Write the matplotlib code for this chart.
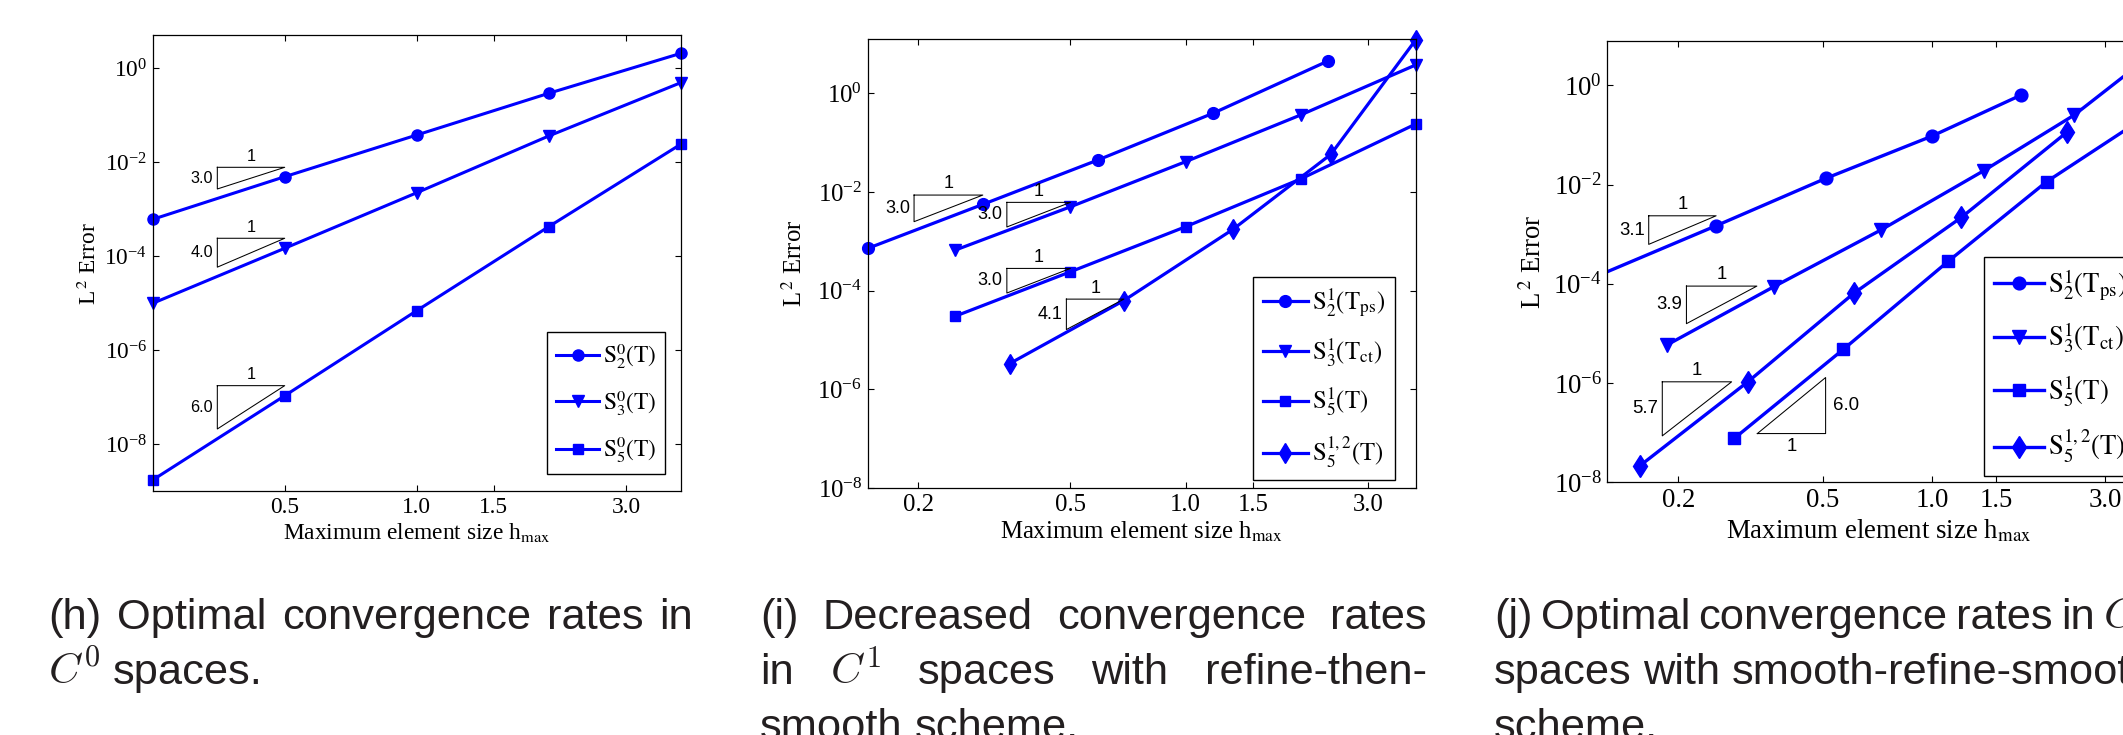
import matplotlib
matplotlib.use('Agg')
import matplotlib.pyplot as plt
from matplotlib.ticker import FixedLocator, FixedFormatter, NullLocator, LogFormatterMathtext
from matplotlib.transforms import offset_copy

plt.rcParams['font.family'] = 'serif'
plt.rcParams['font.serif'] = ['Liberation Serif', 'DejaVu Serif']
plt.rcParams['mathtext.fontset'] = 'stix'

# ---------------- data ----------------
# (h) C0 spaces
h_c0 = [0.25, 0.5, 1.0, 2.0, 4.0]
err_c0_s2 = [6.12e-4, 4.94e-3, 3.81e-2, 0.294, 2.08]
err_c0_s3 = [1.0e-5, 1.48e-4, 2.25e-3, 3.63e-2, 0.494]
err_c0_s5 = [1.74e-9, 1.08e-7, 6.97e-6, 4.27e-4, 2.42e-2]

# (i) C1, refine-then-smooth
h_i_ps = [0.1475, 0.295, 0.59, 1.18, 2.36]
err_i_ps = [7.18e-4, 5.60e-3, 4.44e-2, 0.393, 4.52]
h_i_ct = [0.25, 0.5, 1.0, 2.0, 4.0]
err_i_ct = [6.64e-4, 5.0e-3, 4.1e-2, 0.363, 3.75]
h_i_s5 = [0.25, 0.5, 1.0, 2.0, 4.0]
err_i_s5 = [3.04e-5, 2.41e-4, 1.97e-3, 1.83e-2, 0.238]
h_i_s512 = [0.347, 0.69, 1.33, 2.40, 4.0]
err_i_s512 = [3.33e-6, 6.3e-5, 1.74e-3, 5.79e-2, 12.05]

# (j) C1, smooth-refine-smooth
h_j_ps = [0.127, 0.254, 0.509, 1.0, 1.76]
err_j_ps = [1.74e-4, 1.48e-3, 1.33e-2, 9.5e-2, 0.637]
h_j_ct = [0.1855, 0.366, 0.722, 1.388, 2.466, 4.0]
err_j_ct = [5.81e-6, 8.71e-5, 1.21e-3, 1.90e-2, 0.252, 3.98]
h_j_s5 = [0.2848, 0.569, 1.11, 2.069, 4.0]
err_j_s5 = [7.64e-8, 4.75e-6, 2.87e-4, 1.14e-2, 0.27]
h_j_s512 = [0.1564, 0.3107, 0.608, 1.205, 2.362]
err_j_s512 = [2.14e-8, 1.06e-6, 6.4e-5, 2.18e-3, 0.116]

labels_c0 = [r'$\mathrm{S}_{2}^{0}\mathrm{(T)}$', r'$\mathrm{S}_{3}^{0}\mathrm{(T)}$',
             r'$\mathrm{S}_{5}^{0}\mathrm{(T)}$']
labels_c1 = [r'$\mathrm{S}_{2}^{1}\mathrm{(T}_{\mathrm{ps}}\mathrm{)}$',
             r'$\mathrm{S}_{3}^{1}\mathrm{(T}_{\mathrm{ct}}\mathrm{)}$',
             r'$\mathrm{S}_{5}^{1}\mathrm{(T)}$',
             r'$\mathrm{S}_{5}^{1,2}\mathrm{(T)}$']

# slope triangles: x_left, x_right, y of horizontal edge, rate label, flipped
tris_h = [(0.351, 0.5, 7.83e-3, '3.0', False),
          (0.351, 0.5, 2.42e-4, '4.0', False),
          (0.351, 0.5, 1.77e-7, '6.0', False)]
tris_i = [(0.195, 0.295, 8.65e-3, '3.0', False),
          (0.341, 0.5, 6.15e-3, '3.0', False),
          (0.341, 0.5, 2.82e-4, '3.0', False),
          (0.488, 0.69, 6.73e-5, '4.1', False)]
tris_j = [(0.1656, 0.254, 2.35e-3, '3.1', False),
          (0.2104, 0.329, 9.0e-5, '3.9', False),
          (0.1805, 0.2803, 1.06e-6, '5.7', False),
          (0.330, 0.509, 9.6e-8, '6.0', True)]

captions = [
    [(['(h)', 'Optimal', 'convergence', 'rates', 'in'], True),
     ([r'$C^0$', 'spaces.'], False)],
    [(['(i)', 'Decreased', 'convergence', 'rates'], True),
     (['in', r'$C^1$', 'spaces', 'with', 'refine-then-'], True),
     (['smooth', 'scheme.'], False)],
    [(['(j)', 'Optimal', 'convergence', 'rates', 'in', r'$C^1$'], True),
     (['spaces', 'with', 'smooth-refine-smooth'], True),
     (['scheme.'], False)],
]

# ---------------- figure ----------------
W, H = 2123, 735
fig = plt.figure(figsize=(W / 100, H / 100), dpi=100)
blue = '#0000ff'


def add_ax(l, t, r, b):
    return fig.add_axes([l / W, 1 - b / H, (r - l) / W, (b - t) / H])


def setup(ax, xlim, ylim, xticks, fs):
    ax.set_xscale('log')
    ax.set_yscale('log')
    ax.set_xlim(xlim)
    ax.set_ylim(ylim)
    ax.xaxis.set_major_locator(FixedLocator(xticks))
    ax.xaxis.set_major_formatter(FixedFormatter(['%.1f' % v for v in xticks]))
    ax.xaxis.set_minor_locator(NullLocator())
    ax.yaxis.set_major_locator(FixedLocator([1e-8, 1e-6, 1e-4, 1e-2, 1e0]))
    ax.yaxis.set_major_formatter(LogFormatterMathtext())
    ax.yaxis.set_minor_locator(NullLocator())
    ax.tick_params(which='both', direction='in', top=True, right=True,
                   length=4, width=0.8, labelsize=fs, pad=4)
    for s in ax.spines.values():
        s.set_linewidth(0.9)


def triangles(ax, tris, sfs):
    for x0, x1, y0, lab, flip in tris:
        r = float(lab)
        if not flip:
            y1 = y0 * (x0 / x1) ** r
            ax.plot([x0, x1, x0, x0], [y0, y0, y1, y0], color='black', lw=0.75, clip_on=False)
            ax.annotate('1', xy=((x0 * x1) ** 0.5, y0), xytext=(0, 8), textcoords='offset points',
                        ha='center', va='center', fontsize=sfs, family='Liberation Sans')
            ax.annotate(lab, xy=(x0, (y0 * y1) ** 0.5), xytext=(-3, 0), textcoords='offset points',
                        ha='right', va='center', fontsize=sfs, family='Liberation Sans')
        else:
            y1 = y0 * (x1 / x0) ** r
            ax.plot([x0, x1, x1, x0], [y0, y0, y1, y0], color='black', lw=0.75, clip_on=False)
            ax.annotate('1', xy=((x0 * x1) ** 0.5, y0), xytext=(0, -9.5), textcoords='offset points',
                        ha='center', va='center', fontsize=sfs, family='Liberation Sans')
            ax.annotate(lab, xy=(x1, (y0 * y1) ** 0.5), xytext=(5, 0), textcoords='offset points',
                        ha='left', va='center', fontsize=sfs, family='Liberation Sans')


def labels(ax, fs, ylab_dx, xlab_base):
    tr = offset_copy(ax.transAxes, fig=fig, x=-ylab_dx, y=0, units='dots')
    ax.text(0, 0.5, r'L$^{\,2}$ Error', rotation=90, ha='center', va='center',
            fontsize=fs, transform=tr)
    bb = ax.get_position()
    ax.text(0.5, 0, r'Maximum element size h$_{\mathrm{max}}$', ha='center', va='baseline',
            fontsize=fs, transform=offset_copy(ax.transAxes, fig=fig, x=0,
                                               y=-(xlab_base - (1 - bb.y0) * H), units='dots'))


def legend(ax, x, y, fs, spacing):
    leg = ax.legend(loc='upper left', bbox_to_anchor=(x / W, 1 - y / H),
                    bbox_transform=fig.transFigure, borderaxespad=0, fancybox=False,
                    edgecolor='black', framealpha=1, fontsize=fs, numpoints=1,
                    handlelength=1.85, handletextpad=0.15, labelspacing=spacing, borderpad=0.4)
    leg.get_frame().set_linewidth(1.0)


# ---- panel (h)
ax1 = add_ax(152.7, 35, 680.7, 491.3)
fs = 16.8
ax1.plot(h_c0, err_c0_s2, '-o', color=blue, lw=2.2, ms=8, clip_on=False, label=labels_c0[0])
ax1.plot(h_c0, err_c0_s3, '-v', color=blue, lw=2.2, ms=8.5, clip_on=False, label=labels_c0[1])
ax1.plot(h_c0, err_c0_s5, '-s', color=blue, lw=2.2, ms=7, clip_on=False, label=labels_c0[2])
setup(ax1, (0.25, 4.0), (1e-9, 10 ** 0.709), [0.5, 1.0, 1.5, 3.0], fs)
triangles(ax1, tris_h, 11.7)
labels(ax1, fs, 63, 538.5)
legend(ax1, 546.7, 332.3, fs, 0.74)

# ---- panel (i)
ax2 = add_ax(867.7, 39, 1415.7, 488)
fs = 17.8
k = fs / 16.8
ax2.plot(h_i_ps, err_i_ps, '-o', color=blue, lw=2.3, ms=8 * k, clip_on=False, label=labels_c1[0])
ax2.plot(h_i_ct, err_i_ct, '-v', color=blue, lw=2.3, ms=8.5 * k, clip_on=False, label=labels_c1[1])
ax2.plot(h_i_s5, err_i_s5, '-s', color=blue, lw=2.3, ms=7 * k, clip_on=False, label=labels_c1[2])
ax2.plot(h_i_s512, err_i_s512, '-d', color=blue, lw=2.3, ms=10 * k, clip_on=False, label=labels_c1[3])
setup(ax2, (0.1475, 4.0), (1e-8, 10 ** 1.10), [0.2, 0.5, 1.0, 1.5, 3.0], fs)
triangles(ax2, tris_i, 13.0)
labels(ax2, fs, 73, 538.5)
legend(ax2, 1252.7, 276.7, fs, 0.7)

# ---- panel (j), cut off at the right edge of the image
ax3 = add_ax(1607.4, 40.7, 2150.4, 482.3)
fs = 19.3
k = fs / 16.8
ax3.plot(h_j_ps, err_j_ps, '-o', color=blue, lw=2.4, ms=8 * k, markevery=[1, 2, 3, 4],
         clip_on=True, label=labels_c1[0])
ax3.plot(h_j_ct, err_j_ct, '-v', color=blue, lw=2.4, ms=8.5 * k, clip_on=False, label=labels_c1[1])
ax3.plot(h_j_s5, err_j_s5, '-s', color=blue, lw=2.4, ms=7 * k, clip_on=False, label=labels_c1[2])
ax3.plot(h_j_s512, err_j_s512, '-d', color=blue, lw=2.4, ms=10 * k, clip_on=False, label=labels_c1[3])
setup(ax3, (0.1274, 4.0), (1e-8, 10 ** 0.90), [0.2, 0.5, 1.0, 1.5, 3.0], fs)
triangles(ax3, tris_j, 13.4)
labels(ax3, fs, 74, 538.5)
legend(ax3, 1983.7, 256.7, fs, 0.68)

# ---------------- captions (justified) ----------------
renderer = fig.canvas.get_renderer()
cap_kw = dict(family='Liberation Sans', fontsize=31.2, color='#231f20', math_fontfamily='cm')
space_px = 0.278 * 31.2 * 100 / 72
cap_x = [48.3, 760.0, 1494.0]
cap_w = [645.0, 667.0, 660.0]
base0, dy = 628.8, 55.2

for c, x0, wid in zip(captions, cap_x, cap_w):
    for i, (words, justify) in enumerate(c):
        txts = [fig.text(0, 0, w, va='baseline', **cap_kw) for w in words]
        widths = [t.get_window_extent(renderer).width for t in txts]
        if justify and len(words) > 1:
            gap = (wid - sum(widths)) / (len(words) - 1)
        else:
            gap = space_px
        x = x0
        for t, w in zip(txts, widths):
            t.set_position((x / W, 1 - (base0 + i * dy) / H))
            x += w + gap

fig.savefig('out.png', dpi=100)
